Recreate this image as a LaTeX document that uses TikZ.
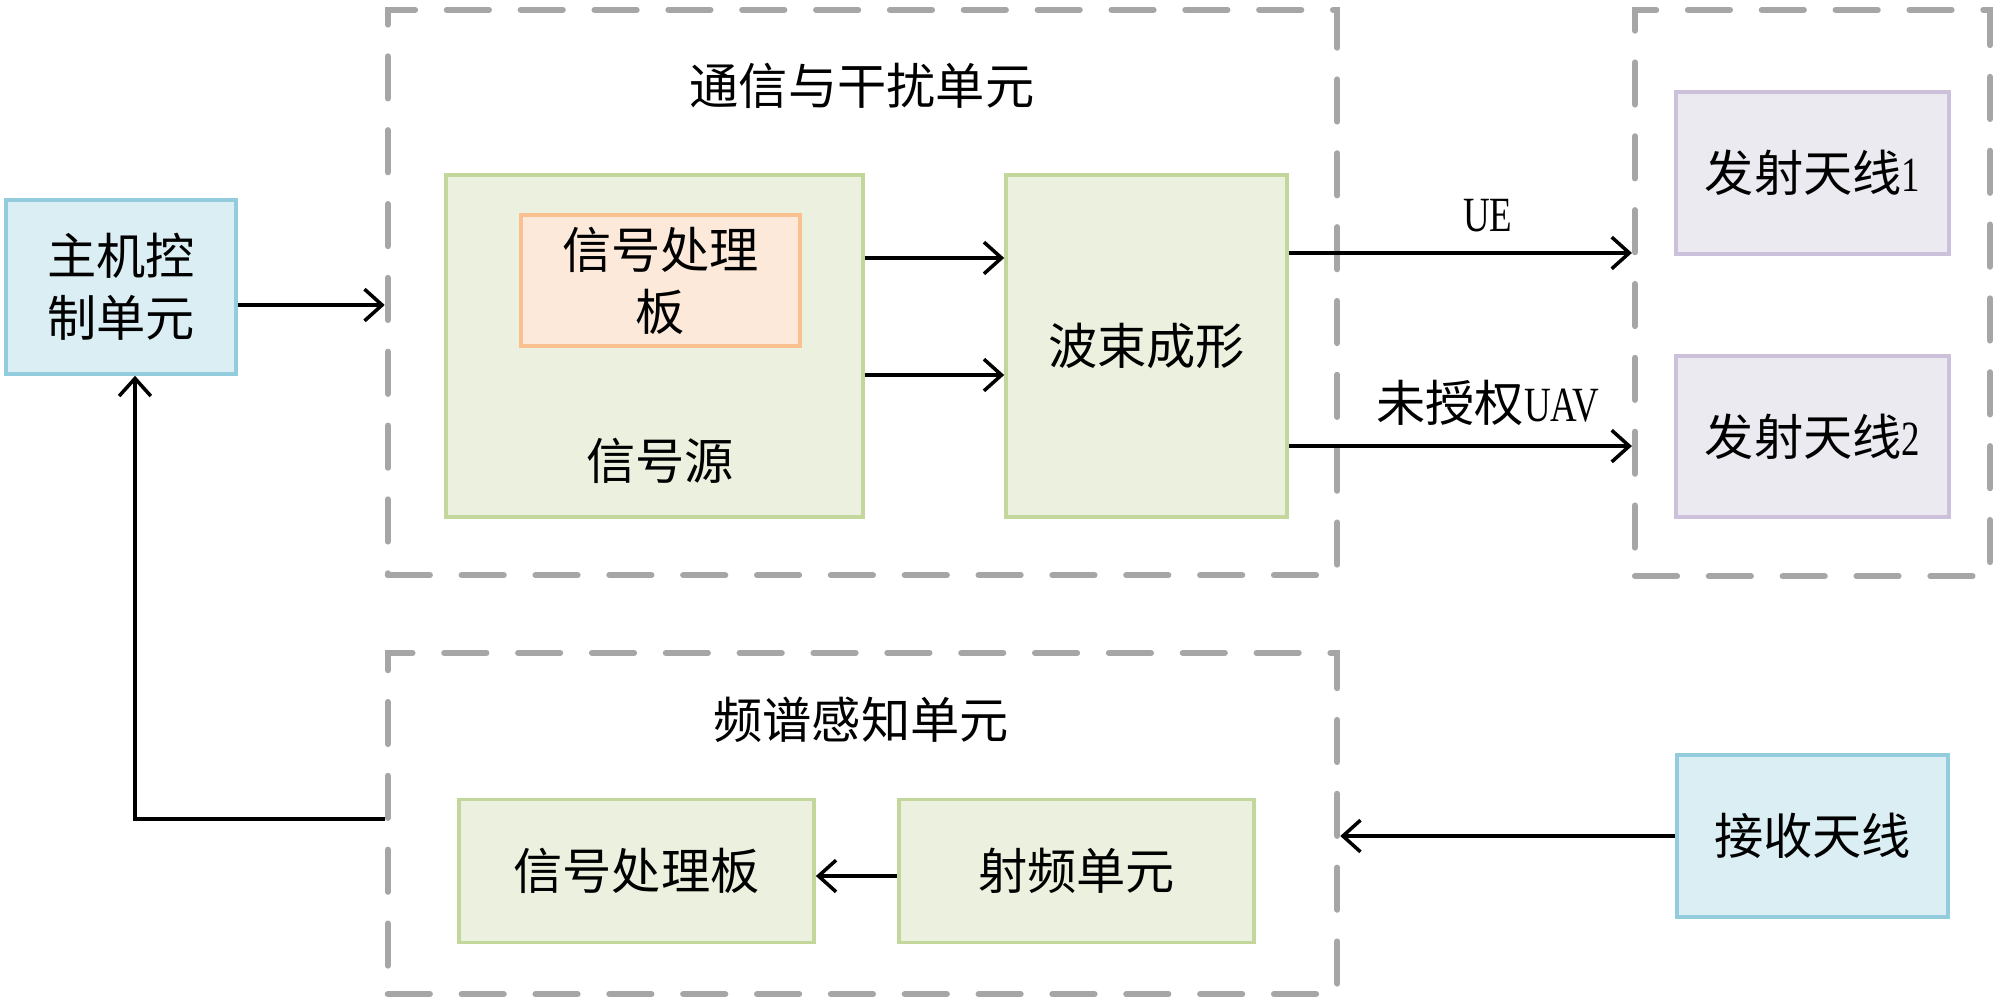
\documentclass[tikz,border=0pt]{standalone}
\usepackage{fontspec}
\setmainfont{Noto Sans CJK SC}
\newfontfamily\latin[FakeStretch=0.75]{Liberation Serif}
\usetikzlibrary{positioning, arrows.meta}
\definecolor{bluefill}{HTML}{DAEEF3}
\definecolor{blueline}{HTML}{93CDDD}
\definecolor{greenfill}{HTML}{EBF1DE}
\definecolor{greenline}{HTML}{C3D69B}
\definecolor{orangefill}{HTML}{FDE9D9}
\definecolor{orangeline}{HTML}{FAC090}
\definecolor{purplefill}{HTML}{ECEAF1}
\definecolor{purpleline}{HTML}{CCC1DA}
\definecolor{groupgray}{HTML}{A6A6A6}
\tikzset{
    unit box/.style = {draw, line width=1pt, align=center, inner sep=0pt},
    blue box/.style = {unit box, draw=blueline, fill=bluefill},
    green box/.style = {unit box, draw=greenline, fill=greenfill},
    orange box/.style = {unit box, draw=orangeline, fill=orangefill},
    purple box/.style = {unit box, draw=purpleline, fill=purplefill},
    group box/.style = {draw=groupgray, line width=1.7pt, dash pattern=on 12pt off 9pt, line cap=round},
    flow/.style = {draw, line width=1pt, -{Straight Barb[length=5pt, width=9pt]}},
}

\begin{document}
\begin{tikzpicture}[x=0.01cm, y=-0.01cm, every node/.style={font=\fontsize{14pt}{17.6pt}\selectfont}]
    \useasboundingbox (0, 0) rectangle (2000, 1003);

    \node[group box, minimum width=9.49cm, minimum height=5.65cm] (comm) at (862.5, 292.5) {};
    \node[group box, minimum width=3.55cm, minimum height=5.66cm] (tx) at (1812.5, 293) {};
    \node[group box, minimum width=9.49cm, minimum height=3.41cm] (sense) at (862.5, 823.5) {};

    \node (comm title) at (862, 86) {通信与干扰单元};
    \node (sense title) at (861, 720) {频谱感知单元};

    \node[blue box, minimum width=2.30cm, minimum height=1.74cm] (host) at (121, 287) {主机控\\制单元};

    \node[green box, minimum width=4.17cm, minimum height=3.42cm] (src) at (654.5, 346) {};
    \node[orange box, minimum width=2.79cm, minimum height=1.31cm] (dsp) at (660.5, 280.5) {信号处理\\板};
    \node (src label) at (660, 461) {信号源};
    \node[green box, minimum width=2.81cm, minimum height=3.42cm] (beam) at (1146.5, 346) {波束成形};

    \node[purple box, minimum width=2.73cm, minimum height=1.62cm] (ant1) at (1812.5, 173) {发射天线\latin 1};
    \node[purple box, minimum width=2.73cm, minimum height=1.61cm] (ant2) at (1812.5, 436.5) {发射天线\latin 2};

    \node[green box, minimum width=3.55cm, minimum height=1.43cm] (sp) at (636.5, 871) {信号处理板};
    \node[green box, minimum width=3.55cm, minimum height=1.43cm] (rf) at (1076.5, 871) {射频单元};
    \node[blue box, minimum width=2.71cm, minimum height=1.62cm] (rx) at (1812.5, 836) {接收天线};

    \coordinate (host out) at ([yshift=-0.18cm]host.east);
    \draw[flow] (host out) -- (host out -| comm.west);

    \draw[flow] ([yshift=0.88cm]src.east) -- ([yshift=0.88cm]beam.west);
    \draw[flow] ([yshift=-0.29cm]src.east) -- ([yshift=-0.29cm]beam.west);

    \coordinate (ue) at ([yshift=0.93cm]beam.east);
    \draw[flow] (ue) -- (ue -| tx.west) node[pos=0.58, above=2pt] {\latin UE};
    \coordinate (uav) at ([yshift=-1cm]beam.east);
    \draw[flow] (uav) -- (uav -| tx.west) node[pos=0.58, above=2pt] {未授权\latin UAV};

    \draw[flow] (rx.west) -- (rx.west -| sense.east);
    \draw[flow] ([yshift=-0.05cm]rf.west) -- ([yshift=-0.05cm]sp.east);
    \draw[flow] ([yshift=0.045cm]sense.west) -| ([xshift=0.14cm]host.south);
\end{tikzpicture}
\end{document}
